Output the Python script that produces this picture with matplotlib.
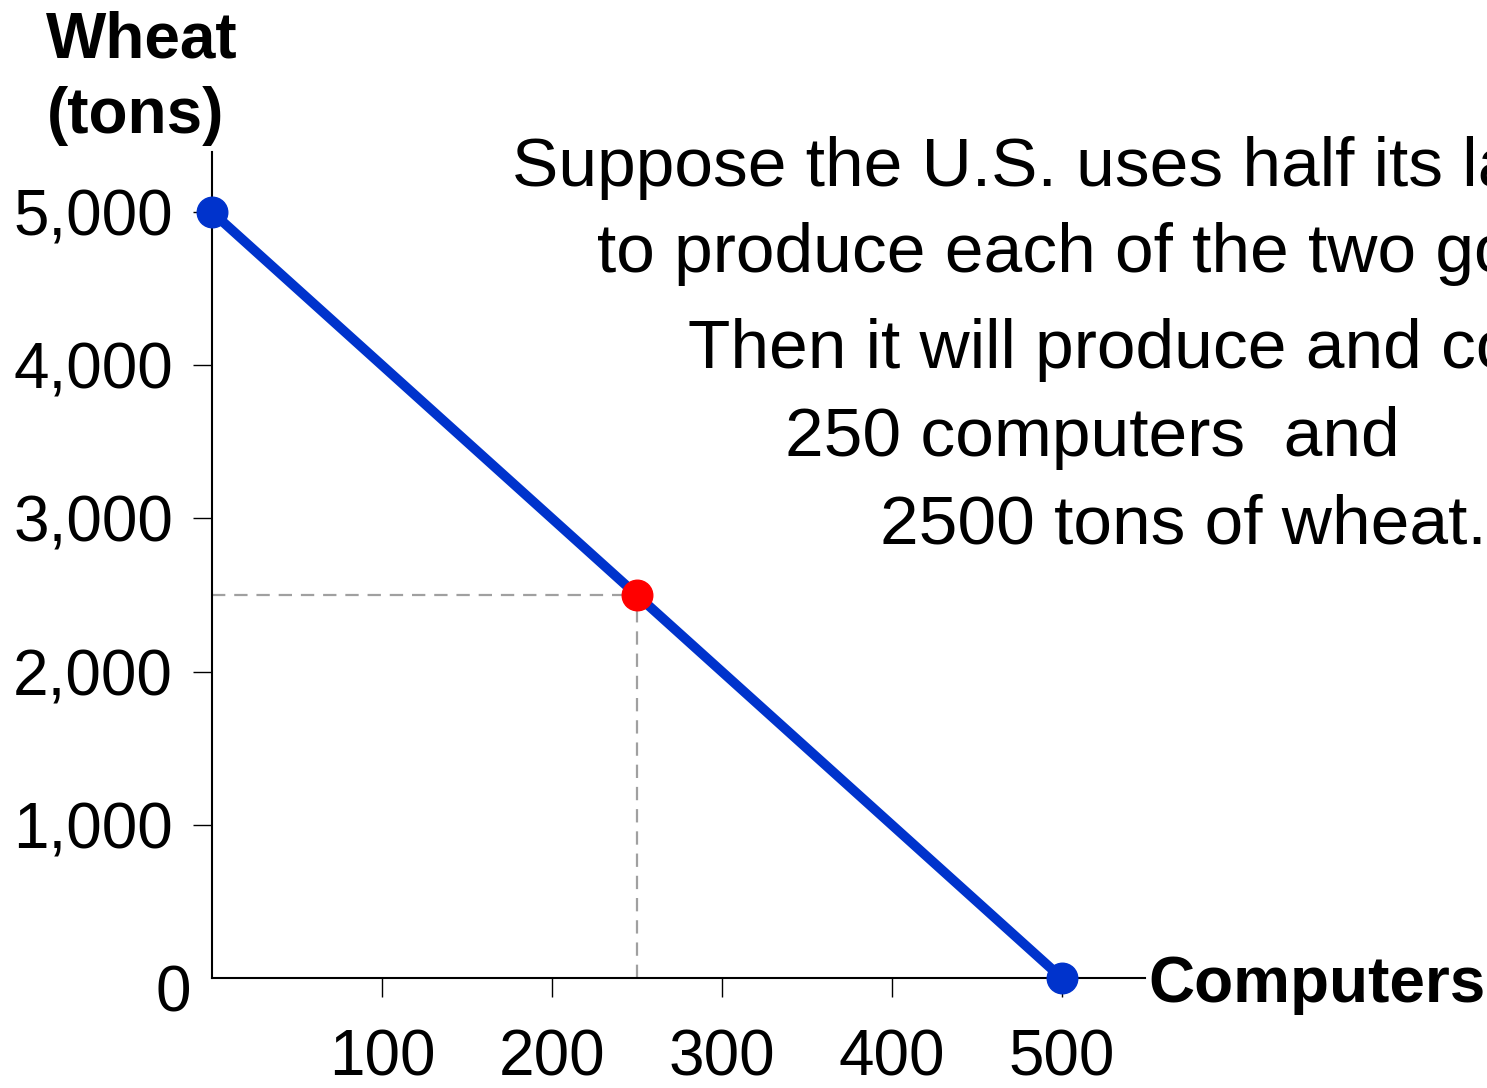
import matplotlib.pyplot as plt

plt.rcParams['font.family'] = ['Liberation Sans', 'DejaVu Sans']

# Production possibilities frontier
ppf_computers = [0, 500]
ppf_wheat = [5000, 0]
chosen_computers = 250
chosen_wheat = 2500

x_ticks = [100, 200, 300, 400, 500]
y_ticks = [1000, 2000, 3000, 4000, 5000]
y_tick_labels = ['1,000', '2,000', '3,000', '4,000', '5,000']

note_lines = [
    'Suppose the U.S. uses half its labor',
    'to produce each of the two goods.',
    'Then it will produce and consume',
    '250 computers  and',
    '2500 tons of wheat.',
]

W, H = 1487, 1088
fig = plt.figure(figsize=(W / 100, H / 100), dpi=100)
ax = fig.add_axes([212 / W, 1 - 978 / H, (1145 - 212) / W, (978 - 152) / H])

ax.set_xlim(0, 549)
ax.set_ylim(0, 5392)

# dashed guides to the chosen point
ax.plot([0, chosen_computers], [chosen_wheat, chosen_wheat], color='#a0a0a0',
        lw=1.6, dashes=(6, 4), zorder=2)
ax.plot([chosen_computers, chosen_computers], [0, chosen_wheat], color='#a0a0a0',
        lw=1.6, dashes=(6, 4), zorder=2)

ax.plot(ppf_computers, ppf_wheat, color='#0033cc', lw=7, solid_capstyle='butt',
        zorder=3, clip_on=False)
ax.plot(ppf_computers, ppf_wheat, 'o', color='#0033cc', ms=22, zorder=4, clip_on=False)
ax.plot([chosen_computers], [chosen_wheat], 'o', color='#ff0000', ms=22, zorder=5,
        clip_on=False)

for side in ['top', 'right']:
    ax.spines[side].set_visible(False)
for side in ['left', 'bottom']:
    ax.spines[side].set_linewidth(1.5)

ax.set_xticks(x_ticks)
ax.set_xticklabels([str(v) for v in x_ticks])
ax.set_yticks(y_ticks)
ax.set_yticklabels(y_tick_labels)
ax.tick_params(axis='x', length=14, width=1, labelsize=46, pad=22)
ax.tick_params(axis='y', length=14, width=1, labelsize=46, pad=14)

fig.text(173 / W, 1 - 995 / H, '0', fontsize=46, ha='center', va='center')

fig.text(142 / W, 1 - 58 / H, 'Wheat', fontsize=46, fontweight='bold',
         ha='center', va='baseline')
fig.text(136 / W, 1 - 133 / H, '(tons)', fontsize=46, fontweight='bold',
         ha='center', va='baseline')
fig.text(1148 / W, 1 - 1002 / H, 'Computers', fontsize=46, fontweight='bold',
         ha='left', va='baseline')

starts = [512, 597, 688, 785, 880]
baselines = [186, 272, 368, 456, 544]
for line, x0, y0 in zip(note_lines, starts, baselines):
    fig.text(x0 / W, 1 - y0 / H, line, fontsize=50, ha='left', va='baseline')

fig.savefig('out.png', dpi=100)
